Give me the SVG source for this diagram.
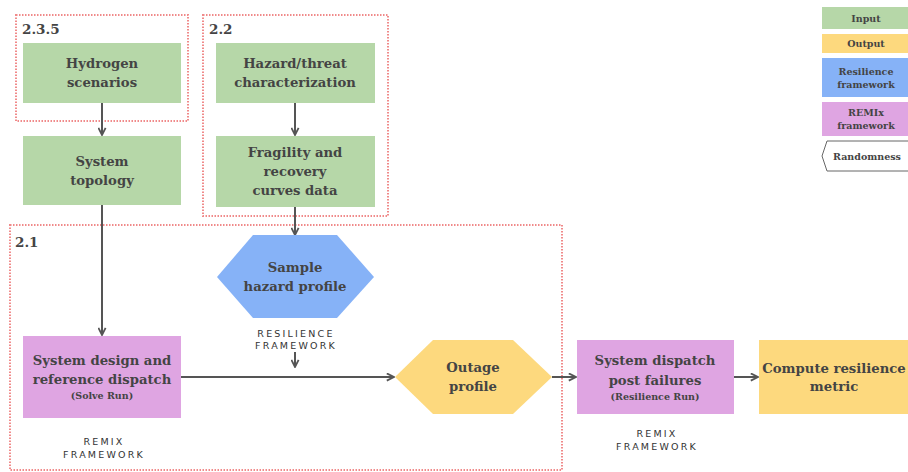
<svg xmlns="http://www.w3.org/2000/svg" width="908" height="472" viewBox="0 0 908 472">
<style>
.sec{fill:none;stroke:#f08a8a;stroke-width:2;stroke-dasharray:1.5 1.5}
.in{fill:#b6d7a8}
.out{fill:#fdd97e}
.res{fill:#86b2f7}
.rem{fill:#dfa5e2}
.t{font-family:"DejaVu Serif",Georgia,serif;font-weight:bold;font-size:13.2px;fill:#444;text-anchor:middle}
.s{font-family:"DejaVu Serif",Georgia,serif;font-weight:bold;font-size:9.5px;fill:#444;text-anchor:middle}
.lg{font-family:"DejaVu Serif",Georgia,serif;font-weight:bold;font-size:9.5px;fill:#444;text-anchor:middle}
.lab{font-family:"DejaVu Serif",Georgia,serif;font-weight:bold;font-size:13.5px;fill:#444}
.fw{font-family:"DejaVu Sans","Liberation Sans",sans-serif;font-size:9.5px;fill:#333;letter-spacing:2.2px;text-anchor:middle}
.c{stroke:#555;stroke-width:2;fill:none;marker-end:url(#ah)}
</style>
<defs>
<marker id="ah" viewBox="0 0 10 10" refX="9" refY="5" markerWidth="4.5" markerHeight="4.5" orient="auto" markerUnits="strokeWidth">
<path d="M1,1 L9,5 L1,9" fill="none" stroke="#555" stroke-width="2"/>
</marker>
</defs>
<rect width="908" height="472" fill="#fff"/>
<g id="sections">
<rect class="sec" x="16" y="15" width="172" height="106"/>
<text class="lab" x="22" y="34">2.3.5</text>
<rect class="sec" x="203" y="15" width="185" height="201"/>
<text class="lab" x="209" y="34">2.2</text>
<rect class="sec" x="10" y="225" width="552" height="245"/>
<text class="lab" x="15" y="247">2.1</text>
</g>
<g id="connectors">
<path class="c" d="M102,103 V135"/>
<path class="c" d="M295,103 V135"/>
<path class="c" d="M102,205 V335"/>
<path class="c" d="M295,207 V235"/>
<path class="c" d="M295,352 V367"/>
<path class="c" d="M181,377 H394"/>
<path class="c" d="M552,377 H576"/>
<path class="c" d="M734,377 H758"/>
</g>
<g id="hydrogen">
<rect class="in" x="23" y="43" width="158" height="60"/>
<text class="t" x="102" y="68">Hydrogen</text>
<text class="t" x="102" y="87">scenarios</text>
</g>
<g id="hazard">
<rect class="in" x="216" y="43" width="159" height="60"/>
<text class="t" x="295" y="68">Hazard/threat</text>
<text class="t" x="295" y="87">characterization</text>
</g>
<g id="topology">
<rect class="in" x="23" y="136" width="158" height="69"/>
<text class="t" x="102" y="166">System</text>
<text class="t" x="102" y="185">topology</text>
</g>
<g id="fragility">
<rect class="in" x="216" y="136" width="159" height="71"/>
<text class="t" x="295" y="157">Fragility and</text>
<text class="t" x="295" y="176">recovery</text>
<text class="t" x="295" y="195">curves data</text>
</g>
<g id="sample">
<polygon class="res" points="217,277 253,235 337,235 374,277 337,318 253,318"/>
<text class="t" x="295" y="272">Sample</text>
<text class="t" x="295" y="291">hazard profile</text>
<text class="fw" x="296" y="337">RESILIENCE</text>
<text class="fw" x="296" y="349">FRAMEWORK</text>
</g>
<g id="design">
<rect class="rem" x="23" y="336" width="158" height="82"/>
<text class="t" x="102" y="365">System design and</text>
<text class="t" x="102" y="384">reference dispatch</text>
<text class="s" x="102" y="399">(Solve Run)</text>
<text class="fw" x="104" y="445">REMIX</text>
<text class="fw" x="104" y="458">FRAMEWORK</text>
</g>
<g id="outage">
<polygon class="out" points="395,377 433,340 513,340 552,377 513,414 433,414"/>
<text class="t" x="473" y="372">Outage</text>
<text class="t" x="473" y="391">profile</text>
</g>
<g id="dispatch">
<rect class="rem" x="577" y="340" width="157" height="74"/>
<text class="t" x="655" y="365">System dispatch</text>
<text class="t" x="655" y="385">post failures</text>
<text class="s" x="655" y="400">(Resilience Run)</text>
<text class="fw" x="657" y="437">REMIX</text>
<text class="fw" x="657" y="450">FRAMEWORK</text>
</g>
<g id="compute">
<rect class="out" x="759" y="340" width="160" height="74"/>
<text class="t" x="834" y="373">Compute resilience</text>
<text class="t" x="834" y="391">metric</text>
</g>
<g id="legend">
<rect class="in" x="822" y="7" width="90" height="22"/>
<text class="lg" x="866" y="22">Input</text>
<rect class="out" x="822" y="34" width="90" height="19"/>
<text class="lg" x="866" y="47">Output</text>
<rect class="res" x="822" y="58" width="90" height="39"/>
<text class="lg" x="866" y="75">Resilience</text>
<text class="lg" x="866" y="88">framework</text>
<rect class="rem" x="822" y="102" width="90" height="34"/>
<text class="lg" x="866" y="116">REMIx</text>
<text class="lg" x="866" y="129">framework</text>
<polygon points="827,141 912,141 912,171 827,171 822,156" fill="#fff" stroke="#666" stroke-width="1"/>
<text class="lg" x="867" y="160">Randomness</text>
</g>
</svg>
